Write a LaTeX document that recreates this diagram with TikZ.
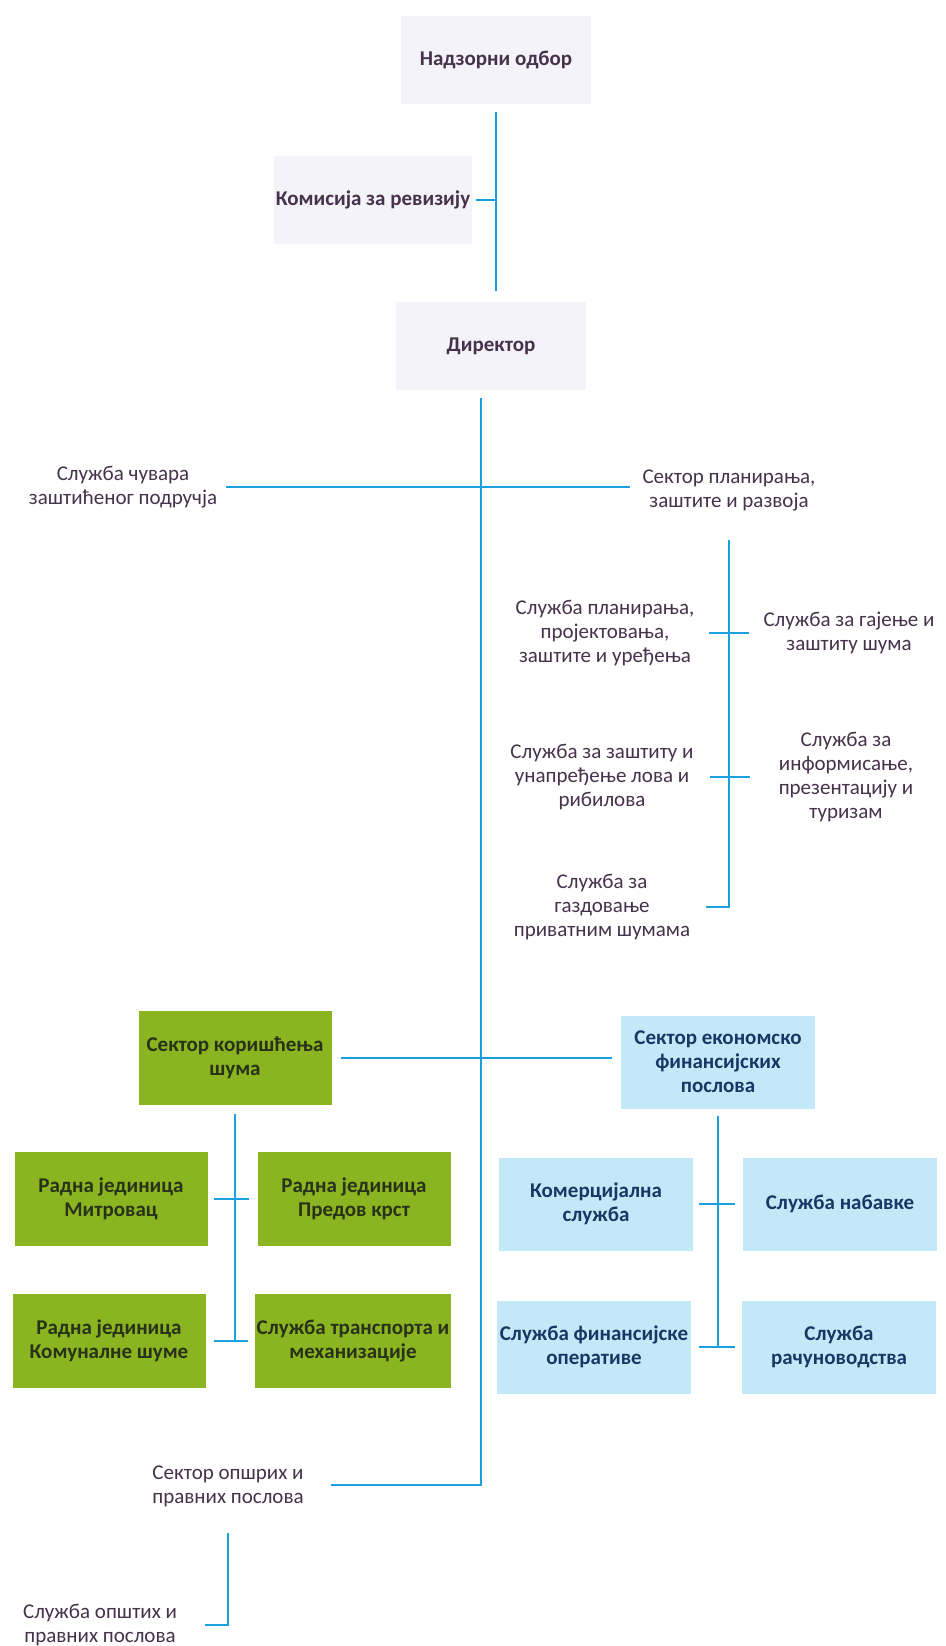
\documentclass[tikz,border=0pt]{standalone}
\usepackage{fontspec}
\setmainfont{Carlito}
\usetikzlibrary{positioning}
\definecolor{linija}{RGB}{25,160,225}
\definecolor{tekst}{RGB}{70,50,75}
\definecolor{vrhf}{RGB}{245,243,250}
\definecolor{zelenaf}{RGB}{138,180,32}
\definecolor{zelenat}{RGB}{40,50,25}
\definecolor{plavaf}{RGB}{195,233,248}
\definecolor{plavat}{RGB}{25,55,100}
\tikzset{
    conn/.style={draw=linija, line width=2.6pt},
    lbl/.style={align=center, text=tekst, inner sep=2pt,
        font=\fontsize{21}{24}\selectfont},
    vrh/.style={lbl, fill=vrhf, minimum width=190pt, minimum height=88pt,
        font=\fontsize{21}{24}\selectfont\bfseries},
    zelena/.style={lbl, fill=zelenaf, text=zelenat,
        font=\fontsize{21}{24}\selectfont\bfseries,
        minimum width=193pt, minimum height=94pt},
    plava/.style={lbl, fill=plavaf, text=plavat,
        font=\fontsize{21}{24}\selectfont\bfseries,
        minimum width=194pt, minimum height=93pt}
}
\begin{document}
\begin{tikzpicture}[x=1pt,y=-1pt]
        \useasboundingbox (0,0) rectangle (945,1646);
        \fill[white] (0,0) rectangle (945,1646);
        %% Top
        \node[vrh] (nad) at (496,60) {Надзорни одбор};
        \node[vrh, minimum width=196pt] (kom) at (373,200) {Комисија за ревизију};
        \node[vrh] (dir) at (491,346) {Директор};
        \draw[conn, shorten <=8pt, shorten >=11pt] (nad.south) -- (nad.south |- dir.north);
        \draw[conn, shorten <=4pt] (kom.east) -- (kom.east -| nad.south);
        %% Trunk
        \coordinate (trk) at (481,1485);
        \node[lbl] (sop) at (228,1486) {Сектор опшрих и\\правних послова};
        \draw[conn, shorten <=8pt, shorten >=25pt] (dir.south -| trk) -- (trk) -- (trk -| sop.east);
        %% First branch
        \node[lbl] (scv) at (123,487) {Служба чувара\\заштићеног подручја};
        \node[lbl] (spz) at (729,490) {Сектор планирања,\\заштите и развоја};
        \draw[conn, shorten <=7pt, shorten >=10pt] (scv.east) -- (scv.east -| spz.west);
        %% Planning services
        \node[lbl] (pl1) at (605,633) {Служба планирања,\\пројектовања,\\заштите и уређења};
        \node[lbl] (pl2) at (849,633) {Служба за гајење и\\заштиту шума};
        \node[lbl] (pl3) at (602,777) {Служба за заштиту и\\унапређење лова и\\рибилова};
        \node[lbl] (pl4) at (846,777) {Служба за\\информисање,\\презентацију и\\туризам};
        \node[lbl] (pl5) at (602,907) {Служба за\\газдовање\\приватним шумама};
        \draw[conn, shorten <=27pt, shorten >=14pt] (spz.south) -- (spz.south |- pl5) -- (pl5.east);
        \draw[conn, shorten <=12pt, shorten >=12pt] (pl1) -- (pl2);
        \draw[conn, shorten <=14pt, shorten >=27pt] (pl3) -- (pl4);
        %% Second branch
        \node[zelena] (gsek) at (235,1058) {Сектор коришћења\\шума};
        \node[plava] (bsek) at (718,1062) {Сектор економско\\финансијских\\послова};
        \draw[conn, shorten <=9pt, shorten >=9pt] (gsek.east) -- (gsek.east -| bsek.west);
        %% Forest units
        \node[zelena] (g1) at (111,1199) {Радна јединица\\Митровац};
        \node[zelena] (g2) at (354,1199) {Радна јединица\\Предов крст};
        \node[zelena] (g3) at (109,1341) {Радна јединица\\Комуналне шуме};
        \node[zelena] (g4) at (353,1341) {Служба транспорта и\\механизације};
        \draw[conn, shorten <=9pt] (gsek.south) -- (gsek.south |- g3);
        \draw[conn, shorten <=6pt, shorten >=8pt] (g1) -- (g2);
        \draw[conn, shorten <=8pt, shorten >=6pt] (g3) -- (g4);
        %% Finance services
        \node[plava] (b1) at (596,1204) {Комерцијална\\служба};
        \node[plava] (b2) at (840,1204) {Служба набавке};
        \node[plava] (b3) at (594,1347) {Служба финансијске\\оперативе};
        \node[plava] (b4) at (839,1347) {Служба\\рачуноводства};
        \draw[conn, shorten <=7pt] (bsek.south) -- (bsek.south |- b3);
        \draw[conn, shorten <=6pt, shorten >=8pt] (b1) -- (b2);
        \draw[conn, shorten <=8pt, shorten >=7pt] (b3) -- (b4);
        %% Bottom
        \node[lbl] (sos) at (100,1625) {Служба општих и\\правних послова};
        \draw[conn, shorten <=24pt, shorten >=26pt] (sop.south) -- (sop.south |- sos) -- (sos.east);
    \end{tikzpicture}
\end{document}
